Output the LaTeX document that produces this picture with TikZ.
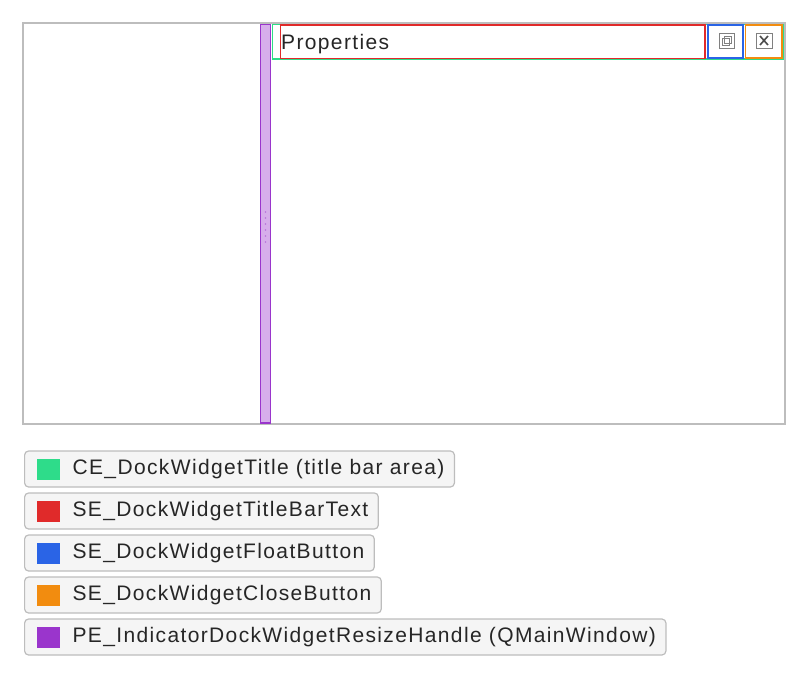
\documentclass[tikz,border=0pt]{standalone}
\usepackage{fontspec}
\setmainfont{Liberation Sans}[LetterSpace = 6.5]
\usetikzlibrary{positioning}
\definecolor{cgreen}{HTML}{2EDC8A}
\definecolor{cred}{HTML}{E02A2A}
\definecolor{cblue}{HTML}{2A64E6}
\definecolor{corange}{HTML}{F28C0F}
\definecolor{cpurple}{HTML}{9A35CC}
\definecolor{cframe}{HTML}{BDBDBD}
\tikzset{
  legend/.style = {draw = cframe, fill = black!4, rounded corners = 4pt, line width = 1.2pt,
    anchor = west, minimum height = 36pt, inner sep = 0pt, align = left,
    font = \fontsize{21}{22}\selectfont, text = black!85},
  swatch/.style = {minimum width = 23pt, minimum height = 21pt, inner sep = 0pt, anchor = west},
  hot/.style = {line width = 1.3pt}
}
\newcommand{\legendrow}[4]{%
  \node[legend] (#1) at (24,#2) {\hspace*{48pt}#4\hspace*{10pt}};
  \node[swatch, fill = #3] (#1s) at ([xshift = 13pt]#1.west) {};
}
\begin{document}
\begin{tikzpicture}[x = 1pt, y = -1pt]
        \useasboundingbox (0,0) rectangle (808,682);

        % window
        \draw[cframe, line width = 2pt] (23,23) rectangle (785,424);

        % resize handle
        \draw[cpurple, fill = cpurple!40, line width = 1.3pt] (260.5,24.5) rectangle (270.5,423);
        \foreach \y in {212,218,...,242}
          \fill[cpurple!70] (265.5,\y) circle (0.8pt);

        % title bar parts
        \draw[cgreen, hot] (272.5,24.5) rectangle (783,59);
        \draw[cred, hot] (280.5,25) rectangle (705,58.5);
        \draw[cblue, hot] (708,25) rectangle (743,58);
        \draw[corange, hot] (745.5,25) rectangle (782,58);
        \node[anchor = west, inner sep = 0pt, font = \fontsize{21}{24}\selectfont, text = black!85]
          (title) at (281,44) {Properties};

        % float and close buttons
        \draw[gray, line width = 0.9pt] (719,33) rectangle (734,48);
        \draw[gray, line width = 0.8pt] (724,36) rectangle (731,43);
        \draw[gray, line width = 0.8pt] (722,38) rectangle (729,45);
        \draw[gray, line width = 0.9pt] (756,33) rectangle (772,48);
        \draw[black!70, line width = 1.6pt] (760,36) -- (768,45) (768,36) -- (760,45);

        % legend
        \legendrow{lgtitle}{469}{cgreen}{\raisebox{-2.5pt}{CE\_DockWidgetTitle (title bar area)}}
        \legendrow{lgtext}{511}{cred}{\raisebox{-2.5pt}{SE\_DockWidgetTitleBarText}}
        \legendrow{lgfloat}{553}{cblue}{\raisebox{-2.5pt}{SE\_DockWidgetFloatButton}}
        \legendrow{lgclose}{595}{corange}{\raisebox{-2.5pt}{SE\_DockWidgetCloseButton}}
        \legendrow{lghandle}{637}{cpurple}{\raisebox{-2.5pt}{PE\_IndicatorDockWidgetResizeHandle (QMainWindow)}}
\end{tikzpicture}
\end{document}
